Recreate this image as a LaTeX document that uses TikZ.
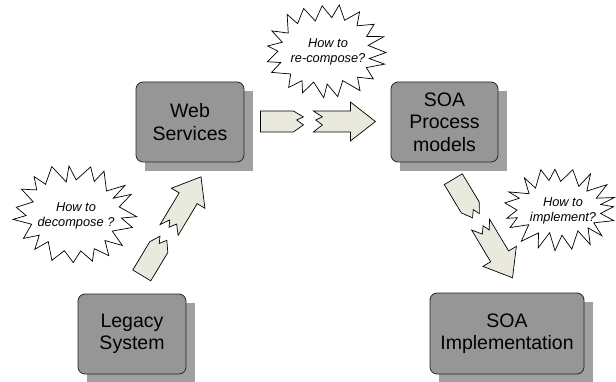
\documentclass[tikz,border=0pt]{standalone}
\usepackage{fontspec}
\setmainfont{Liberation Sans}
\usetikzlibrary{calc}
\definecolor{boxfill}{RGB}{150,150,150}
\definecolor{boxshade}{RGB}{160,160,160}
\definecolor{burstshade}{RGB}{202,202,202}
\definecolor{arrowfill}{RGB}{233,234,221}
\pgfdeclarelayer{back}
\pgfsetlayers{back,main}
% corner points of an irregular 19-point explosion: name, cx, cy, rx, ry, seed
\newcommand\burstpoints[6]{%
  \pgfmathsetseed{#6}%
  \foreach \i in {0,...,18}{
    \pgfmathsetmacro\ao{\i*360/19 + (rnd-0.5)*8}
    \pgfmathsetmacro\ai{\i*360/19 + 180/19 + (rnd-0.5)*8}
    \pgfmathsetmacro\ro{1 - rnd*0.07}
    \pgfmathsetmacro\dd{16 + (rnd-0.5)*6}
    \coordinate (#1-o\i) at ({#2 + #4*\ro*cos(\ao)}, {#3 + #5*\ro*sin(\ao)});
    \coordinate (#1-i\i) at ({#2 + (#4-\dd)*cos(\ai)}, {#3 + (#5-\dd)*sin(\ai)});
  }%
}
\newcommand\burstoutline[1]{(#1-o0) \foreach \i [evaluate=\i as \j using {int(mod(\i+1,19))}] in {0,...,18} { -- (#1-i\i) -- (#1-o\j) } -- cycle}
\begin{document}
\begin{tikzpicture}[x=1pt,y=-1pt,
  stage/.style={draw=black!85, fill=boxfill, rounded corners=7pt, line width=0.8pt,
    minimum width=#1, minimum height=80pt, align=center, inner sep=0pt,
    font=\fontsize{19.5}{22.5}\selectfont},
  stage/.default=108pt,
  bursttext/.style={align=center, inner sep=0pt, font=\fontsize{12.8}{14.5}\selectfont\itshape},
  burstface/.style={draw=black, fill=white, line width=0.7pt, line join=miter},
  burstback/.style={draw=none, fill=burstshade},
  arrowline/.style={draw=black, fill=arrowfill, line width=0.7pt, line join=miter},
  splitarrow/.pic={
    \path[arrowline] (0,-10.5) -- (33,-10.5) -- (43,-4.6) -- (36.3,-1.5)
      -- (43,3.4) -- (33,10.5) -- (0,10.5) -- cycle;
    \path[arrowline] (53,-10.5) -- (62,-4.6) -- (55.3,-1.5) -- (62,3.4)
      -- (53,10.5) -- (90,10.5) -- (90,19.5) -- (115,0) -- (90,-19.5)
      -- (90,-10.5) -- cycle;
  }]
\useasboundingbox (0,0) rectangle (616,382);

% the four stages
\node[stage] (ws) at (190,122) {Web\\Services};
\node[stage=107pt] (spm) at (444.5,122) {SOA\\Process\\models};
\node[stage] (leg) at (132,334) {Legacy\\System};
\node[stage=154pt, minimum height=81pt] (impl) at (507,333.5) {SOA\\Implementation};

% square drop shadows behind the stages
\begin{pgfonlayer}{back}
  \foreach \n in {ws,spm,leg,impl}
    \fill[boxshade] ([shift={(9,9)}]\n.north west) rectangle ([shift={(9,9)}]\n.south east);
\end{pgfonlayer}

% question bursts, each with an offset shadow
\burstpoints{b1}{74.5}{214}{63}{51.5}{7}
\burstpoints{b2}{326}{51.5}{61.5}{48.5}{11}
\burstpoints{b3}{560}{209.5}{57.5}{43}{23}
\begin{pgfonlayer}{back}
  \foreach \b in {b1,b2,b3}
    \path[burstback, shift={(8,8)}] \burstoutline{\b};
\end{pgfonlayer}
\foreach \b in {b1,b2,b3}
  \path[burstface] \burstoutline{\b};
\node[bursttext] (q1) at (76,216) {How to\\decompose ?};
\node[bursttext] (q2) at (328,52) {How to\\re-compose?};
\node[bursttext] (q3) at (563,211) {How to\\implement?};

% broken block arrows between the stages
\coordinate (a1) at ($(leg.north)+(9.8,-18.2)$);
\coordinate (a2) at ($(ws.east)+(16,-0.5)$);
\coordinate (a3) at ($(spm.south)+(8.8,16.8)$);
\pic[rotate=59] at (a1) {splitarrow};
\pic at (a2) {splitarrow};
\pic[rotate=-59] at (a3) {splitarrow};
\end{tikzpicture}
\end{document}
